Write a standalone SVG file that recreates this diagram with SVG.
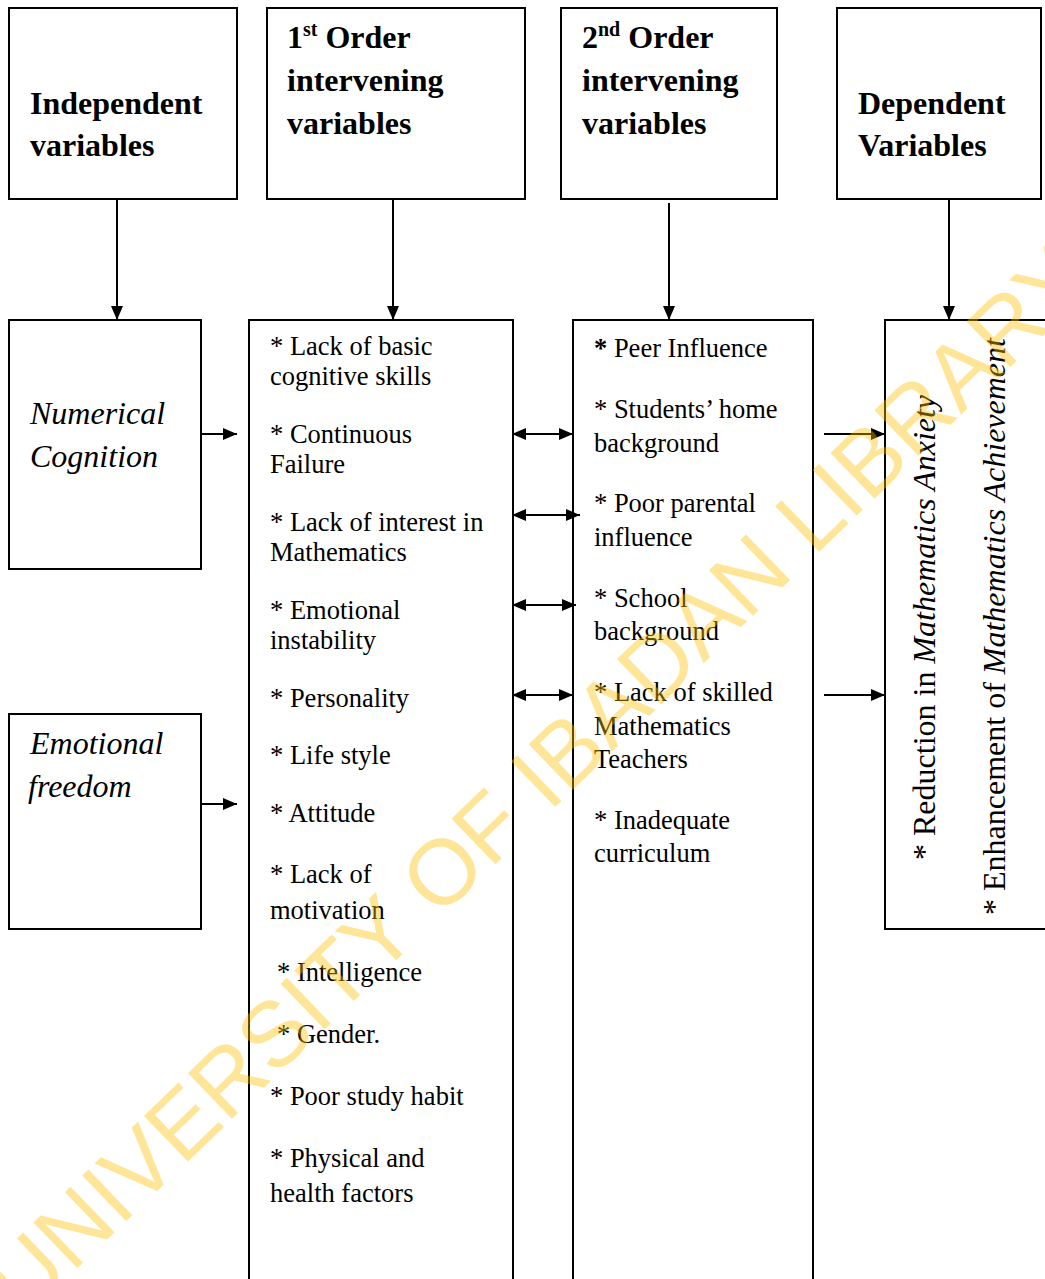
<svg xmlns="http://www.w3.org/2000/svg" width="1045" height="1279" viewBox="0 0 1045 1279">
<style>
.box{fill:#fff;stroke:#000;stroke-width:2}
.hd{font-family:"Liberation Serif",serif;font-weight:bold;font-size:32px;fill:#000}
.sup{font-size:20px}
.it{font-family:"Liberation Serif",serif;font-style:italic;font-size:32px;fill:#000}
.tx{font-family:"Liberation Serif",serif;font-size:26.5px;fill:#000}
.vt{font-family:"Liberation Serif",serif;font-size:32px;fill:#000}
.con line{stroke:#000;stroke-width:2}
.wm{font-family:"Liberation Sans",Arial,sans-serif;font-size:92px;fill:#FFC000;opacity:0.4}
</style>
<defs>
<marker id="ah" viewBox="0 0 14 12" refX="14" refY="6" markerWidth="14" markerHeight="12" markerUnits="userSpaceOnUse" orient="auto-start-reverse">
<path d="M0,0 L14,6 L0,12 z" fill="#000"/>
</marker>
</defs>
<rect width="1045" height="1279" fill="#fff"/>

<g id="hdr-independent">
<rect class="box" x="9" y="8" width="228" height="191"/>
<text class="hd" x="30" y="114">Independent</text>
<text class="hd" x="30" y="156">variables</text>
</g>
<g id="hdr-first-order">
<rect class="box" x="267" y="8" width="258" height="191"/>
<text class="hd" x="287" y="48">1<tspan class="sup" dy="-12">st</tspan><tspan dy="12"> Order</tspan></text>
<text class="hd" x="287" y="91">intervening</text>
<text class="hd" x="287" y="134">variables</text>
</g>
<g id="hdr-second-order">
<rect class="box" x="561" y="8" width="216" height="191"/>
<text class="hd" x="582" y="48">2<tspan class="sup" dy="-12">nd</tspan><tspan dy="12"> Order</tspan></text>
<text class="hd" x="582" y="91">intervening</text>
<text class="hd" x="582" y="134">variables</text>
</g>
<g id="hdr-dependent">
<rect class="box" x="837" y="8" width="204" height="191"/>
<text class="hd" x="858" y="114">Dependent</text>
<text class="hd" x="858" y="156">Variables</text>
</g>

<g id="numerical-cognition">
<rect class="box" x="9" y="320" width="192" height="249"/>
<text class="it" x="30" y="424">Numerical</text>
<text class="it" x="30" y="467">Cognition</text>
</g>
<g id="emotional-freedom">
<rect class="box" x="9" y="714" width="192" height="215"/>
<text class="it" x="30" y="754">Emotional</text>
<text class="it" x="28" y="797">freedom</text>
</g>

<g id="first-order-list">
<rect class="box" x="249" y="320" width="264" height="980"/>
<text class="tx" x="270" y="355">* Lack of basic</text>
<text class="tx" x="270" y="385">cognitive skills</text>
<text class="tx" x="270" y="443">* Continuous</text>
<text class="tx" x="270" y="473">Failure</text>
<text class="tx" x="270" y="531">* Lack of interest in</text>
<text class="tx" x="270" y="561">Mathematics</text>
<text class="tx" x="270" y="619">* Emotional</text>
<text class="tx" x="270" y="649">instability</text>
<text class="tx" x="270" y="707">* Personality</text>
<text class="tx" x="270" y="764">* Life style</text>
<text class="tx" x="270" y="822">* Attitude</text>
<text class="tx" x="270" y="883">* Lack of</text>
<text class="tx" x="270" y="919">motivation</text>
<text class="tx" x="277" y="981">* Intelligence</text>
<text class="tx" x="277" y="1043">* Gender.</text>
<text class="tx" x="270" y="1105">* Poor study habit</text>
<text class="tx" x="270" y="1167">* Physical and</text>
<text class="tx" x="270" y="1202">health factors</text>
</g>

<g id="second-order-list">
<rect class="box" x="573" y="320" width="240" height="980"/>
<text class="tx" x="594" y="357"><tspan font-weight="bold">*</tspan> Peer Influence</text>
<text class="tx" x="594" y="418">* Students’ home</text>
<text class="tx" x="594" y="452">background</text>
<text class="tx" x="594" y="512">* Poor parental</text>
<text class="tx" x="594" y="546">influence</text>
<text class="tx" x="594" y="607">* School</text>
<text class="tx" x="594" y="640">background</text>
<text class="tx" x="594" y="701">* Lack of skilled</text>
<text class="tx" x="594" y="735">Mathematics</text>
<text class="tx" x="594" y="768">Teachers</text>
<text class="tx" x="594" y="829">* Inadequate</text>
<text class="tx" x="594" y="862">curriculum</text>
</g>

<g id="dependent-outcomes">
<rect class="box" x="885" y="320" width="170" height="609"/>
<text class="vt" transform="translate(935,860) rotate(-90)">* Reduction in <tspan font-style="italic">Mathematics Anxiety</tspan></text>
<text class="vt" transform="translate(1005,915) rotate(-90)">* Enhancement of <tspan font-style="italic">Mathematics Achievement</tspan></text>
</g>

<g id="connectors" class="con">
<line x1="117" y1="199" x2="117" y2="320" marker-end="url(#ah)"/>
<line x1="393" y1="199" x2="393" y2="320" marker-end="url(#ah)"/>
<line x1="669" y1="203" x2="669" y2="320" marker-end="url(#ah)"/>
<line x1="949" y1="199" x2="949" y2="320" marker-end="url(#ah)"/>
<line x1="201" y1="434" x2="237" y2="434" marker-end="url(#ah)"/>
<line x1="201" y1="804" x2="237" y2="804" marker-end="url(#ah)"/>
<line x1="512" y1="434" x2="573" y2="434" marker-start="url(#ah)" marker-end="url(#ah)"/>
<line x1="512" y1="515" x2="580" y2="515" marker-start="url(#ah)" marker-end="url(#ah)"/>
<line x1="512" y1="605" x2="576" y2="605" marker-start="url(#ah)" marker-end="url(#ah)"/>
<line x1="512" y1="695" x2="573" y2="695" marker-start="url(#ah)" marker-end="url(#ah)"/>
<line x1="824" y1="434" x2="885" y2="434" marker-end="url(#ah)"/>
<line x1="824" y1="695" x2="885" y2="695" marker-end="url(#ah)"/>
</g>

<text class="wm" text-anchor="middle" transform="translate(560,802) rotate(-44)">UNIVERSITY OF IBADAN LIBRARY</text>
</svg>
